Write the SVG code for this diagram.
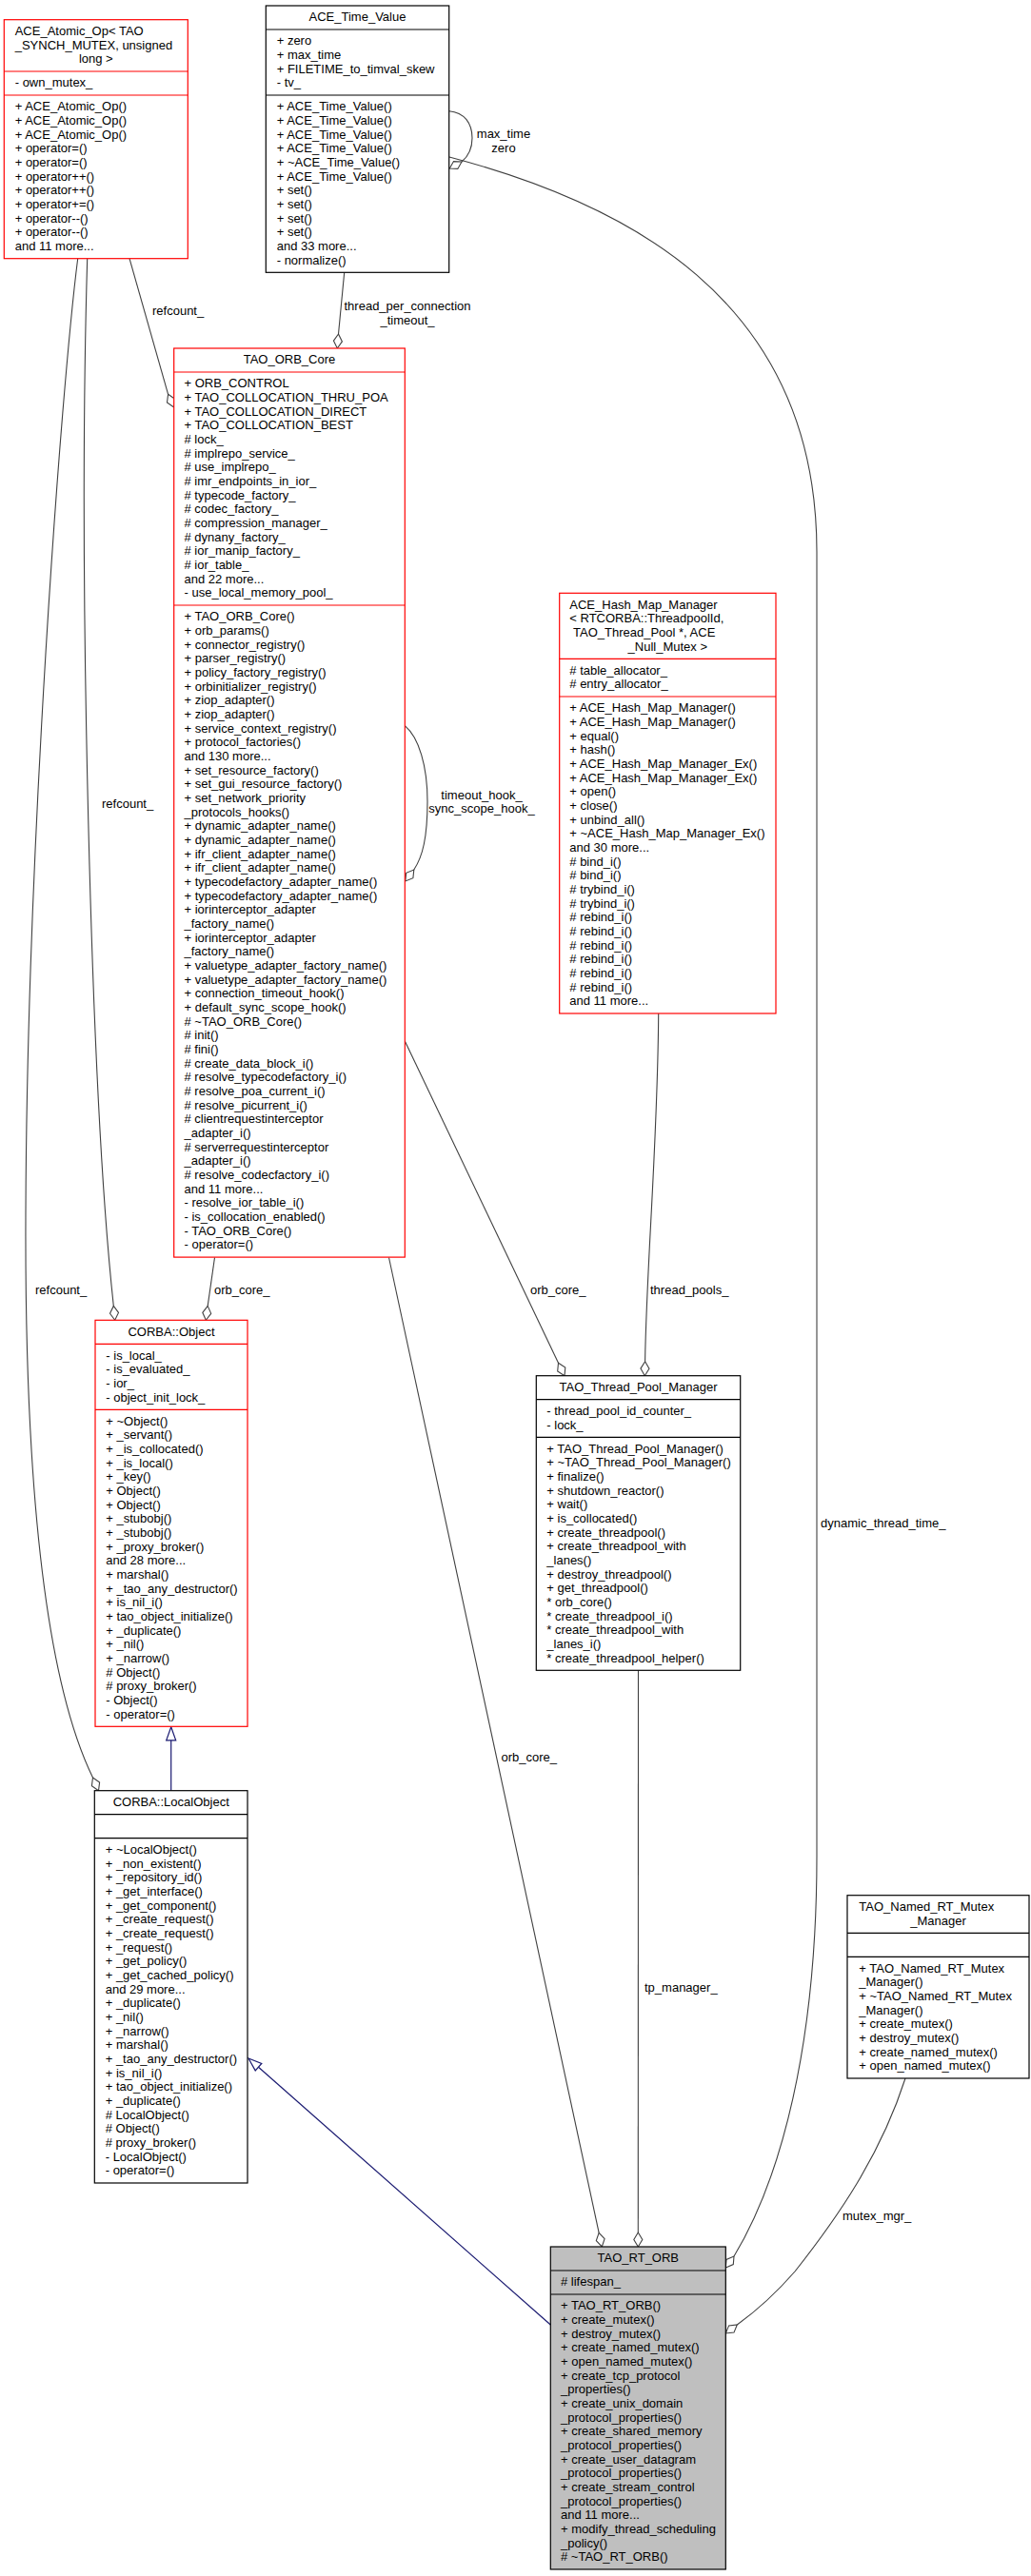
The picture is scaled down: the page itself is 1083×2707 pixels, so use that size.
<svg xmlns="http://www.w3.org/2000/svg" width="1083" height="2707" viewBox="0 0 1083 2707">
<style>
text{font-family:"Liberation Sans",Arial,Helvetica,sans-serif;font-size:13px;fill:#000}
.c{text-anchor:middle}
.box{fill:#fff;stroke-width:1.2}
.r .box,.r .sep{stroke:#ff0000}
.k .box,.k .sep{stroke:#000}
.sep{stroke-width:1.2}
.gray .box{fill:#bfbfbf}
.e{fill:none;stroke:#404040;stroke-width:1.1}
.d{fill:#fff;stroke:#404040;stroke-width:1.1}
.i{fill:none;stroke:#191970;stroke-width:1.2}
.t{fill:#fff;stroke:#191970;stroke-width:1.2}
</style>
<rect width="1083" height="2707" fill="#fff"/>

<g id="edges">
  <path class="e" d="M471.7,116.7 C488,118 496,130 496,145 C496,158 491,165 485,170"/>
  <polygon class="d" points="485,170 480.8,177.4 472.3,177 476.5,169.6"/>
  <text class="c" x="529" y="144.8">max_time</text>
  <text class="c" x="529" y="159.5">zero</text>
  <path class="e" d="M472,165 C650,212 858,310 858,580 L858,1950 C858,2150 820,2290 771,2371"/>
  <polygon class="d" points="771,2371 770.3,2379.6 762.3,2383 763,2374.4"/>
  <text x="862" y="1605">dynamic_thread_time_</text>
  <path class="e" d="M361.7,286.3 L355.5,351"/>
  <polygon class="d" points="355.5,351 359.4,358.9 354.3,366 350.4,358.1"/>
  <text class="c" x="428" y="326">thread_per_connection</text>
  <text class="c" x="428" y="340.7">_timeout_</text>
  <path class="e" d="M136,271.7 L176.6,414.3"/>
  <polygon class="d" points="176.6,414.3 183.7,419.3 182.7,428 175.5,423"/>
  <text x="160" y="331">refcount_</text>
  <path class="e" d="M91.7,271.7 C82,600 95,1150 119.3,1372.4"/>
  <polygon class="d" points="119.3,1372.4 124.5,1379.4 120.7,1387.3 115.5,1380.2"/>
  <text x="107" y="848.5">refcount_</text>
  <path class="e" d="M81.7,271.7 C64,410 28,900 27,1280 C26,1550 45,1760 97.5,1868"/>
  <polygon class="d" points="97.5,1868 104.6,1873 103.5,1881.7 96.4,1876.7"/>
  <text x="37" y="1359.5">refcount_</text>
  <path class="e" d="M425.3,762.7 C440,775 449,805 449,842 C449,880 444,900 434.8,914"/>
  <polygon class="d" points="434.8,914 433.9,922.7 425.8,926 426.7,917.3"/>
  <text class="c" x="506" y="839.5">timeout_hook_</text>
  <text class="c" x="506" y="854.2">sync_scope_hook_</text>
  <path class="e" d="M225.5,1321.5 L218.2,1372.4"/>
  <polygon class="d" points="218.2,1372.4 221.7,1380.4 216.3,1387.3 212.8,1379.3"/>
  <text x="225" y="1359.5">orb_core_</text>
  <path class="e" d="M425.3,1094 L586.5,1432.2"/>
  <polygon class="d" points="586.5,1432.2 593.8,1437 593,1445.7 585.7,1440.9"/>
  <text x="557" y="1359.5">orb_core_</text>
  <path class="e" d="M691.7,1065 C691,1200 679,1330 677.6,1430.7"/>
  <polygon class="d" points="677.6,1430.7 681.95,1438.3 677.3,1445.7 672.95,1438.1"/>
  <text x="683" y="1359.5">thread_pools_</text>
  <path class="e" d="M408.5,1321.5 L629.15,2346.3"/>
  <polygon class="d" points="629.15,2346.3 635.1,2352.7 632.3,2361 626.3,2354.6"/>
  <text x="526.5" y="1851">orb_core_</text>
  <path class="e" d="M670.5,1755.3 L670.3,2346"/>
  <polygon class="d" points="670.3,2346 674.8,2353.5 670.3,2361 665.8,2353.5"/>
  <text x="677" y="2092.5">tp_manager_</text>
  <path class="e" d="M951,2184 C925,2265 880,2330 835,2387 C815,2410 795,2428 774.3,2443"/>
  <polygon class="d" points="774.3,2443 771,2451.1 762.3,2452 765.6,2443.9"/>
  <text x="885" y="2332.5">mutex_mgr_</text>
  <path class="i" d="M179.7,1828.8 L179.7,1881.7"/>
  <polygon class="t" points="179.7,1814.8 184.7,1828.8 174.7,1828.8"/>
  <path class="i" d="M271.5,2172.2 L578.3,2443"/>
  <polygon class="t" points="261,2163 274.8,2168.5 268.2,2175.9"/>
</g>

<g id="ACE_Atomic_Op" class="r">
  <rect class="box" x="4.3" y="20.7" width="193" height="251"/>
  <line class="sep" x1="4.3" y1="75" x2="197.3" y2="75"/>
  <line class="sep" x1="4.3" y1="100" x2="197.3" y2="100"/>
  <text x="15.7" y="37">ACE_Atomic_Op&lt; TAO</text>
  <text x="15.7" y="51.7">_SYNCH_MUTEX, unsigned</text>
  <text class="c" x="100.8" y="66.3">long &gt;</text>
  <text x="15.7" y="91.3">- own_mutex_</text>
  <text x="15.7" y="116.3"><tspan>+ ACE_Atomic_Op()</tspan><tspan x="15.7" dy="14.67">+ ACE_Atomic_Op()</tspan><tspan x="15.7" dy="14.67">+ ACE_Atomic_Op()</tspan><tspan x="15.7" dy="14.67">+ operator=()</tspan><tspan x="15.7" dy="14.67">+ operator=()</tspan><tspan x="15.7" dy="14.67">+ operator++()</tspan><tspan x="15.7" dy="14.67">+ operator++()</tspan><tspan x="15.7" dy="14.67">+ operator+=()</tspan><tspan x="15.7" dy="14.67">+ operator--()</tspan><tspan x="15.7" dy="14.67">+ operator--()</tspan><tspan x="15.7" dy="14.67">and 11 more...</tspan></text>
</g>

<g id="ACE_Time_Value" class="k">
  <rect class="box" x="279.3" y="6" width="192.4" height="280.3"/>
  <line class="sep" x1="279.3" y1="31" x2="471.7" y2="31"/>
  <line class="sep" x1="279.3" y1="100" x2="471.7" y2="100"/>
  <text class="c" x="375.5" y="22.3">ACE_Time_Value</text>
  <text x="290.7" y="47.3"><tspan>+ zero</tspan><tspan x="290.7" dy="14.67">+ max_time</tspan><tspan x="290.7" dy="14.67">+ FILETIME_to_timval_skew</tspan><tspan x="290.7" dy="14.67">- tv_</tspan></text>
  <text x="290.7" y="116.3"><tspan>+ ACE_Time_Value()</tspan><tspan x="290.7" dy="14.67">+ ACE_Time_Value()</tspan><tspan x="290.7" dy="14.67">+ ACE_Time_Value()</tspan><tspan x="290.7" dy="14.67">+ ACE_Time_Value()</tspan><tspan x="290.7" dy="14.67">+ ~ACE_Time_Value()</tspan><tspan x="290.7" dy="14.67">+ ACE_Time_Value()</tspan><tspan x="290.7" dy="14.67">+ set()</tspan><tspan x="290.7" dy="14.67">+ set()</tspan><tspan x="290.7" dy="14.67">+ set()</tspan><tspan x="290.7" dy="14.67">+ set()</tspan><tspan x="290.7" dy="14.67">and 33 more...</tspan><tspan x="290.7" dy="14.67">- normalize()</tspan></text>
</g>

<g id="TAO_ORB_Core" class="r">
  <rect class="box" x="182.7" y="366" width="242.6" height="955.1"/>
  <line class="sep" x1="182.7" y1="391" x2="425.3" y2="391"/>
  <line class="sep" x1="182.7" y1="636" x2="425.3" y2="636"/>
  <text class="c" x="304" y="382.3">TAO_ORB_Core</text>
  <text x="193.5" y="407.3"><tspan>+ ORB_CONTROL</tspan><tspan x="193.5" dy="14.67">+ TAO_COLLOCATION_THRU_POA</tspan><tspan x="193.5" dy="14.67">+ TAO_COLLOCATION_DIRECT</tspan><tspan x="193.5" dy="14.67">+ TAO_COLLOCATION_BEST</tspan><tspan x="193.5" dy="14.67"># lock_</tspan><tspan x="193.5" dy="14.67"># implrepo_service_</tspan><tspan x="193.5" dy="14.67"># use_implrepo_</tspan><tspan x="193.5" dy="14.67"># imr_endpoints_in_ior_</tspan><tspan x="193.5" dy="14.67"># typecode_factory_</tspan><tspan x="193.5" dy="14.67"># codec_factory_</tspan><tspan x="193.5" dy="14.67"># compression_manager_</tspan><tspan x="193.5" dy="14.67"># dynany_factory_</tspan><tspan x="193.5" dy="14.67"># ior_manip_factory_</tspan><tspan x="193.5" dy="14.67"># ior_table_</tspan><tspan x="193.5" dy="14.67">and 22 more...</tspan><tspan x="193.5" dy="14.67">- use_local_memory_pool_</tspan></text>
  <text x="193.5" y="652.3"><tspan>+ TAO_ORB_Core()</tspan><tspan x="193.5" dy="14.67">+ orb_params()</tspan><tspan x="193.5" dy="14.67">+ connector_registry()</tspan><tspan x="193.5" dy="14.67">+ parser_registry()</tspan><tspan x="193.5" dy="14.67">+ policy_factory_registry()</tspan><tspan x="193.5" dy="14.67">+ orbinitializer_registry()</tspan><tspan x="193.5" dy="14.67">+ ziop_adapter()</tspan><tspan x="193.5" dy="14.67">+ ziop_adapter()</tspan><tspan x="193.5" dy="14.67">+ service_context_registry()</tspan><tspan x="193.5" dy="14.67">+ protocol_factories()</tspan><tspan x="193.5" dy="14.67">and 130 more...</tspan><tspan x="193.5" dy="14.67">+ set_resource_factory()</tspan><tspan x="193.5" dy="14.67">+ set_gui_resource_factory()</tspan><tspan x="193.5" dy="14.67">+ set_network_priority</tspan><tspan x="193.5" dy="14.67">_protocols_hooks()</tspan><tspan x="193.5" dy="14.67">+ dynamic_adapter_name()</tspan><tspan x="193.5" dy="14.67">+ dynamic_adapter_name()</tspan><tspan x="193.5" dy="14.67">+ ifr_client_adapter_name()</tspan><tspan x="193.5" dy="14.67">+ ifr_client_adapter_name()</tspan><tspan x="193.5" dy="14.67">+ typecodefactory_adapter_name()</tspan><tspan x="193.5" dy="14.67">+ typecodefactory_adapter_name()</tspan><tspan x="193.5" dy="14.67">+ iorinterceptor_adapter</tspan><tspan x="193.5" dy="14.67">_factory_name()</tspan><tspan x="193.5" dy="14.67">+ iorinterceptor_adapter</tspan><tspan x="193.5" dy="14.67">_factory_name()</tspan><tspan x="193.5" dy="14.67">+ valuetype_adapter_factory_name()</tspan><tspan x="193.5" dy="14.67">+ valuetype_adapter_factory_name()</tspan><tspan x="193.5" dy="14.67">+ connection_timeout_hook()</tspan><tspan x="193.5" dy="14.67">+ default_sync_scope_hook()</tspan><tspan x="193.5" dy="14.67"># ~TAO_ORB_Core()</tspan><tspan x="193.5" dy="14.67"># init()</tspan><tspan x="193.5" dy="14.67"># fini()</tspan><tspan x="193.5" dy="14.67"># create_data_block_i()</tspan><tspan x="193.5" dy="14.67"># resolve_typecodefactory_i()</tspan><tspan x="193.5" dy="14.67"># resolve_poa_current_i()</tspan><tspan x="193.5" dy="14.67"># resolve_picurrent_i()</tspan><tspan x="193.5" dy="14.67"># clientrequestinterceptor</tspan><tspan x="193.5" dy="14.67">_adapter_i()</tspan><tspan x="193.5" dy="14.67"># serverrequestinterceptor</tspan><tspan x="193.5" dy="14.67">_adapter_i()</tspan><tspan x="193.5" dy="14.67"># resolve_codecfactory_i()</tspan><tspan x="193.5" dy="14.67">and 11 more...</tspan><tspan x="193.5" dy="14.67">- resolve_ior_table_i()</tspan><tspan x="193.5" dy="14.67">- is_collocation_enabled()</tspan><tspan x="193.5" dy="14.67">- TAO_ORB_Core()</tspan><tspan x="193.5" dy="14.67">- operator=()</tspan></text>
</g>

<g id="ACE_Hash_Map_Manager" class="r">
  <rect class="box" x="587.7" y="623.3" width="227.3" height="441.7"/>
  <line class="sep" x1="587.7" y1="692.3" x2="815" y2="692.3"/>
  <line class="sep" x1="587.7" y1="732" x2="815" y2="732"/>
  <text x="598.3" y="639.6">ACE_Hash_Map_Manager</text>
  <text x="598.3" y="654.3">&lt; RTCORBA::ThreadpoolId,</text>
  <text x="602" y="669">TAO_Thread_Pool *, ACE</text>
  <text class="c" x="701.3" y="683.7">_Null_Mutex &gt;</text>
  <text x="598.3" y="708.6"><tspan># table_allocator_</tspan><tspan x="598.3" dy="14.67"># entry_allocator_</tspan></text>
  <text x="598.3" y="748.3"><tspan>+ ACE_Hash_Map_Manager()</tspan><tspan x="598.3" dy="14.67">+ ACE_Hash_Map_Manager()</tspan><tspan x="598.3" dy="14.67">+ equal()</tspan><tspan x="598.3" dy="14.67">+ hash()</tspan><tspan x="598.3" dy="14.67">+ ACE_Hash_Map_Manager_Ex()</tspan><tspan x="598.3" dy="14.67">+ ACE_Hash_Map_Manager_Ex()</tspan><tspan x="598.3" dy="14.67">+ open()</tspan><tspan x="598.3" dy="14.67">+ close()</tspan><tspan x="598.3" dy="14.67">+ unbind_all()</tspan><tspan x="598.3" dy="14.67">+ ~ACE_Hash_Map_Manager_Ex()</tspan><tspan x="598.3" dy="14.67">and 30 more...</tspan><tspan x="598.3" dy="14.67"># bind_i()</tspan><tspan x="598.3" dy="14.67"># bind_i()</tspan><tspan x="598.3" dy="14.67"># trybind_i()</tspan><tspan x="598.3" dy="14.67"># trybind_i()</tspan><tspan x="598.3" dy="14.67"># rebind_i()</tspan><tspan x="598.3" dy="14.67"># rebind_i()</tspan><tspan x="598.3" dy="14.67"># rebind_i()</tspan><tspan x="598.3" dy="14.67"># rebind_i()</tspan><tspan x="598.3" dy="14.67"># rebind_i()</tspan><tspan x="598.3" dy="14.67"># rebind_i()</tspan><tspan x="598.3" dy="14.67">and 11 more...</tspan></text>
</g>

<g id="CORBA_Object" class="r">
  <rect class="box" x="100" y="1387.3" width="160" height="427"/>
  <line class="sep" x1="100" y1="1412.3" x2="260" y2="1412.3"/>
  <line class="sep" x1="100" y1="1481.3" x2="260" y2="1481.3"/>
  <text class="c" x="180" y="1403.6">CORBA::Object</text>
  <text x="111.3" y="1428.6"><tspan>- is_local_</tspan><tspan x="111.3" dy="14.67">- is_evaluated_</tspan><tspan x="111.3" dy="14.67">- ior_</tspan><tspan x="111.3" dy="14.67">- object_init_lock_</tspan></text>
  <text x="111.3" y="1497.6"><tspan>+ ~Object()</tspan><tspan x="111.3" dy="14.67">+ _servant()</tspan><tspan x="111.3" dy="14.67">+ _is_collocated()</tspan><tspan x="111.3" dy="14.67">+ _is_local()</tspan><tspan x="111.3" dy="14.67">+ _key()</tspan><tspan x="111.3" dy="14.67">+ Object()</tspan><tspan x="111.3" dy="14.67">+ Object()</tspan><tspan x="111.3" dy="14.67">+ _stubobj()</tspan><tspan x="111.3" dy="14.67">+ _stubobj()</tspan><tspan x="111.3" dy="14.67">+ _proxy_broker()</tspan><tspan x="111.3" dy="14.67">and 28 more...</tspan><tspan x="111.3" dy="14.67">+ marshal()</tspan><tspan x="111.3" dy="14.67">+ _tao_any_destructor()</tspan><tspan x="111.3" dy="14.67">+ is_nil_i()</tspan><tspan x="111.3" dy="14.67">+ tao_object_initialize()</tspan><tspan x="111.3" dy="14.67">+ _duplicate()</tspan><tspan x="111.3" dy="14.67">+ _nil()</tspan><tspan x="111.3" dy="14.67">+ _narrow()</tspan><tspan x="111.3" dy="14.67"># Object()</tspan><tspan x="111.3" dy="14.67"># proxy_broker()</tspan><tspan x="111.3" dy="14.67">- Object()</tspan><tspan x="111.3" dy="14.67">- operator=()</tspan></text>
</g>

<g id="TAO_Thread_Pool_Manager" class="k">
  <rect class="box" x="563.3" y="1445.7" width="214.4" height="309.6"/>
  <line class="sep" x1="563.3" y1="1470.7" x2="777.7" y2="1470.7"/>
  <line class="sep" x1="563.3" y1="1510.3" x2="777.7" y2="1510.3"/>
  <text class="c" x="670.5" y="1462">TAO_Thread_Pool_Manager</text>
  <text x="574.3" y="1487"><tspan>- thread_pool_id_counter_</tspan><tspan x="574.3" dy="14.67">- lock_</tspan></text>
  <text x="574.3" y="1526.6"><tspan>+ TAO_Thread_Pool_Manager()</tspan><tspan x="574.3" dy="14.67">+ ~TAO_Thread_Pool_Manager()</tspan><tspan x="574.3" dy="14.67">+ finalize()</tspan><tspan x="574.3" dy="14.67">+ shutdown_reactor()</tspan><tspan x="574.3" dy="14.67">+ wait()</tspan><tspan x="574.3" dy="14.67">+ is_collocated()</tspan><tspan x="574.3" dy="14.67">+ create_threadpool()</tspan><tspan x="574.3" dy="14.67">+ create_threadpool_with</tspan><tspan x="574.3" dy="14.67">_lanes()</tspan><tspan x="574.3" dy="14.67">+ destroy_threadpool()</tspan><tspan x="574.3" dy="14.67">+ get_threadpool()</tspan><tspan x="574.3" dy="14.67">* orb_core()</tspan><tspan x="574.3" dy="14.67">* create_threadpool_i()</tspan><tspan x="574.3" dy="14.67">* create_threadpool_with</tspan><tspan x="574.3" dy="14.67">_lanes_i()</tspan><tspan x="574.3" dy="14.67">* create_threadpool_helper()</tspan></text>
</g>

<g id="CORBA_LocalObject" class="k">
  <rect class="box" x="99.3" y="1881.7" width="160.7" height="412.3"/>
  <line class="sep" x1="99.3" y1="1906.7" x2="260" y2="1906.7"/>
  <line class="sep" x1="99.3" y1="1931.7" x2="260" y2="1931.7"/>
  <text class="c" x="179.7" y="1898">CORBA::LocalObject</text>
  <text x="110.7" y="1948"><tspan>+ ~LocalObject()</tspan><tspan x="110.7" dy="14.67">+ _non_existent()</tspan><tspan x="110.7" dy="14.67">+ _repository_id()</tspan><tspan x="110.7" dy="14.67">+ _get_interface()</tspan><tspan x="110.7" dy="14.67">+ _get_component()</tspan><tspan x="110.7" dy="14.67">+ _create_request()</tspan><tspan x="110.7" dy="14.67">+ _create_request()</tspan><tspan x="110.7" dy="14.67">+ _request()</tspan><tspan x="110.7" dy="14.67">+ _get_policy()</tspan><tspan x="110.7" dy="14.67">+ _get_cached_policy()</tspan><tspan x="110.7" dy="14.67">and 29 more...</tspan><tspan x="110.7" dy="14.67">+ _duplicate()</tspan><tspan x="110.7" dy="14.67">+ _nil()</tspan><tspan x="110.7" dy="14.67">+ _narrow()</tspan><tspan x="110.7" dy="14.67">+ marshal()</tspan><tspan x="110.7" dy="14.67">+ _tao_any_destructor()</tspan><tspan x="110.7" dy="14.67">+ is_nil_i()</tspan><tspan x="110.7" dy="14.67">+ tao_object_initialize()</tspan><tspan x="110.7" dy="14.67">+ _duplicate()</tspan><tspan x="110.7" dy="14.67"># LocalObject()</tspan><tspan x="110.7" dy="14.67"># Object()</tspan><tspan x="110.7" dy="14.67"># proxy_broker()</tspan><tspan x="110.7" dy="14.67">- LocalObject()</tspan><tspan x="110.7" dy="14.67">- operator=()</tspan></text>
</g>

<g id="TAO_Named_RT_Mutex_Manager" class="k">
  <rect class="box" x="890" y="1991.7" width="191" height="192.3"/>
  <line class="sep" x1="890" y1="2031.3" x2="1081" y2="2031.3"/>
  <line class="sep" x1="890" y1="2056.3" x2="1081" y2="2056.3"/>
  <text x="902.3" y="2008">TAO_Named_RT_Mutex</text>
  <text class="c" x="985.5" y="2022.7">_Manager</text>
  <text x="902.3" y="2072.6"><tspan>+ TAO_Named_RT_Mutex</tspan><tspan x="902.3" dy="14.67">_Manager()</tspan><tspan x="902.3" dy="14.67">+ ~TAO_Named_RT_Mutex</tspan><tspan x="902.3" dy="14.67">_Manager()</tspan><tspan x="902.3" dy="14.67">+ create_mutex()</tspan><tspan x="902.3" dy="14.67">+ destroy_mutex()</tspan><tspan x="902.3" dy="14.67">+ create_named_mutex()</tspan><tspan x="902.3" dy="14.67">+ open_named_mutex()</tspan></text>
</g>

<g id="TAO_RT_ORB" class="k gray">
  <rect class="box" x="578.3" y="2361" width="184" height="339"/>
  <line class="sep" x1="578.3" y1="2386" x2="762.3" y2="2386"/>
  <line class="sep" x1="578.3" y1="2411" x2="762.3" y2="2411"/>
  <text class="c" x="670.3" y="2377.3">TAO_RT_ORB</text>
  <text x="589" y="2402.3"># lifespan_</text>
  <text x="589" y="2427.3"><tspan>+ TAO_RT_ORB()</tspan><tspan x="589" dy="14.67">+ create_mutex()</tspan><tspan x="589" dy="14.67">+ destroy_mutex()</tspan><tspan x="589" dy="14.67">+ create_named_mutex()</tspan><tspan x="589" dy="14.67">+ open_named_mutex()</tspan><tspan x="589" dy="14.67">+ create_tcp_protocol</tspan><tspan x="589" dy="14.67">_properties()</tspan><tspan x="589" dy="14.67">+ create_unix_domain</tspan><tspan x="589" dy="14.67">_protocol_properties()</tspan><tspan x="589" dy="14.67">+ create_shared_memory</tspan><tspan x="589" dy="14.67">_protocol_properties()</tspan><tspan x="589" dy="14.67">+ create_user_datagram</tspan><tspan x="589" dy="14.67">_protocol_properties()</tspan><tspan x="589" dy="14.67">+ create_stream_control</tspan><tspan x="589" dy="14.67">_protocol_properties()</tspan><tspan x="589" dy="14.67">and 11 more...</tspan><tspan x="589" dy="14.67">+ modify_thread_scheduling</tspan><tspan x="589" dy="14.67">_policy()</tspan><tspan x="589" dy="14.67"># ~TAO_RT_ORB()</tspan></text>
</g>
</svg>
